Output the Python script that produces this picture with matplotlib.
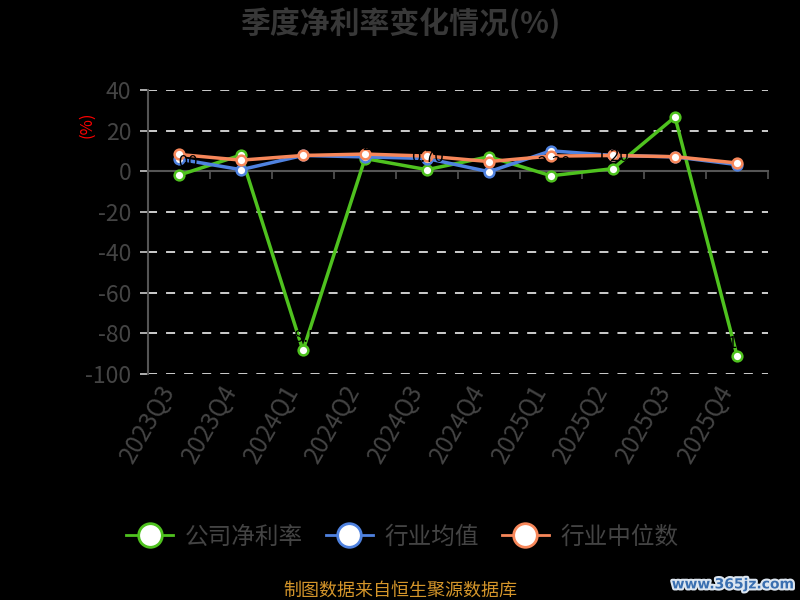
import matplotlib
matplotlib.use("Agg")
import matplotlib.pyplot as plt
import matplotlib.patheffects as pe
import matplotlib.transforms as mtrans

plt.rcParams['font.family'] = ['Noto Sans CJK SC', 'DejaVu Sans']

quarters = ["2023Q3", "2023Q4", "2024Q1", "2024Q2", "2024Q3",
            "2024Q4", "2025Q1", "2025Q2", "2025Q3", "2025Q4"]
company = [-2.0, 7.9, -88.5, 6.2, 0.7, 7.1, -2.3, 1.2, 26.7, -91.0]
ind_mean = [5.9, 0.7, 7.7, 7.0, 6.2, -0.3, 10.0, 7.7, 7.0, 3.2]
ind_median = [8.2, 5.4, 7.7, 8.4, 7.4, 4.7, 7.4, 7.7, 7.1, 4.0]
yticks = [40, 20, 0, -20, -40, -60, -80, -100]

series_names = ["公司净利率", "行业均值", "行业中位数"]
colors = ["#4fc21f", "#4f82e0", "#f7875a"]

fig = plt.figure(figsize=(8, 6), dpi=100, facecolor="black")
ax = fig.add_axes([0.185, 0.377, 0.775, 0.473])
ax.set_facecolor("black")

x = list(range(len(quarters)))
for vals, name, c in zip([company, ind_mean, ind_median], series_names, colors):
    ax.plot(x, vals, color=c, lw=2.5, marker="o", ms=7,
            mfc="white", mec=c, mew=1.8, label=name, zorder=3)

# data labels (black, as in the reference) for the company series
for xi, v in zip(x, company):
    ax.text(xi, v + 2, f"{v:.2f}", color="black", ha="center", va="bottom",
            fontsize=12, zorder=4)

ax.set_xlim(-0.5, len(quarters) - 0.5)
ax.set_ylim(-100, 40)
ax.set_yticks(yticks)
ax.set_yticklabels([str(t) for t in yticks], color="#444444", fontsize=16.5)

# x axis line at y=0 with boundary ticks
ax.spines["bottom"].set_position(("data", 0))
ax.spines["bottom"].set_color("#555555")
ax.spines["bottom"].set_linewidth(1.5)
ax.set_xticks([i - 0.5 for i in range(len(quarters) + 1)])
ax.set_xticklabels([""] * (len(quarters) + 1))
ax.tick_params(axis="x", length=6, color="#555555", direction="out", width=1.2)
ax.tick_params(axis="y", length=6, color="#cccccc", direction="out", pad=6, width=1.2)

# category labels below the plot area
lab_tr = ax.get_xaxis_transform() + mtrans.ScaledTranslation(-10 / 100, -13 / 100, fig.dpi_scale_trans)
for xi, q in zip(x, quarters):
    ax.text(xi, 0, q, transform=lab_tr, rotation=60, ha="right", va="center",
            rotation_mode="anchor", color="#444444", fontsize=17.5)

for yv in yticks:
    if yv != 0:
        ax.axhline(yv, color="#dddddd", lw=1.3, ls=(0, (5, 5)), zorder=1)

for s in ["top", "right"]:
    ax.spines[s].set_visible(False)
ax.spines["left"].set_color("#555555")
ax.spines["left"].set_linewidth(1.5)

fig.text(0.5, 0.962, "季度净利率变化情况(%)", ha="center", va="center",
         fontsize=21.5, fontweight="bold", color="#383838")
fig.text(0.109, 0.792, "(%)", ha="center", va="center", rotation=90,
         fontsize=12, color="red")

leg_handles = []
for name, c in zip(series_names, colors):
    h, = ax.plot([], [], color=c, lw=2, marker="o", ms=17, mfc="white",
                 mec=c, mew=2)
    leg_handles.append(h)
leg = fig.legend(leg_handles, series_names, loc="center", bbox_to_anchor=(0.503, 0.105),
                 ncol=3, frameon=False, fontsize=17, handlelength=2.0,
                 columnspacing=0.95, handletextpad=0.5)
for t in leg.get_texts():
    t.set_color("#444444")

fig.text(0.5, 0.016, "制图数据来自恒生聚源数据库", ha="center", va="center",
         fontsize=13, color="#d4952a")
wm = fig.text(0.916, 0.026, "www.365jz.com", ha="center", va="center",
              fontsize=10, fontweight="bold", color="#3a6fb0",
              family=["DejaVu Sans"])
wm.set_path_effects([pe.withStroke(linewidth=3, foreground="#dde6f0")])

fig.savefig("out.png", dpi=100, facecolor="black")
